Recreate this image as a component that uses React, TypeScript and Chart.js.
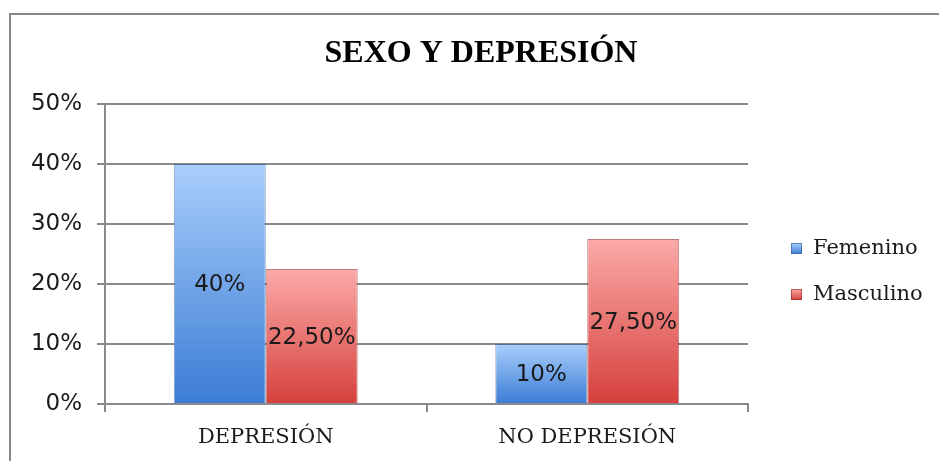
import React, { useEffect, useRef } from "react";
import { Chart, registerables } from "chart.js";

Chart.register(...registerables);

const categories = ["DEPRESIÓN", "NO DEPRESIÓN"];
const seriesNames = ["Femenino", "Masculino"];
const femenino = [40, 10];
const masculino = [22.5, 27.5];
const yTickValues = [0, 10, 20, 30, 40, 50];
const titleText = "SEXO Y DEPRESIÓN";

const palette = [
  { light: "#a9cffc", dark: "#3b7cd4", solid: "#5a93e0", edge: "rgba(50,90,150,0.6)" },
  { light: "#fbaaa8", dark: "#d6403c", solid: "#e0615d", edge: "rgba(140,40,40,0.6)" },
];

const fmt = (v: number) =>
  Number.isInteger(v) ? `${v}%` : `${v.toFixed(2).replace(".", ",")}%`;

const gradientFill = (idx: number) => (c: any) => {
  const chart = c.chart;
  const p = palette[idx];
  if (!chart.chartArea || c.type !== "data" || !chart.scales.y) return p.solid;
  const ys = chart.scales.y;
  const top = ys.getPixelForValue(c.raw);
  const base = ys.getPixelForValue(0);
  if (!isFinite(top) || !isFinite(base) || top === base) return p.solid;
  const g = chart.ctx.createLinearGradient(0, top, 0, base);
  g.addColorStop(0, p.light);
  g.addColorStop(1, p.dark);
  return g;
};

const framePlugin = {
  id: "frame",
  beforeDraw(chart: any) {
    const { ctx, width, height } = chart;
    ctx.save();
    ctx.strokeStyle = "#878787";
    ctx.lineWidth = 2;
    ctx.beginPath();
    ctx.moveTo(10, height);
    ctx.lineTo(10, 14);
    ctx.lineTo(width, 14);
    ctx.stroke();
    ctx.restore();
  },
};

const valueLabels = {
  id: "valueLabels",
  afterDatasetsDraw(chart: any) {
    const { ctx } = chart;
    ctx.save();
    ctx.font = '23px "DejaVu Sans"';
    ctx.fillStyle = "#1a1a1a";
    ctx.textAlign = "center";
    ctx.textBaseline = "middle";
    chart.data.datasets.forEach((ds: any, di: number) => {
      const meta = chart.getDatasetMeta(di);
      meta.data.forEach((el: any, i: number) => {
        const v = ds.data[i];
        ctx.fillText(fmt(v), el.x, (el.y + el.base) / 2 + 2);
      });
    });
    ctx.restore();
  },
};

const customLegend = {
  id: "customLegend",
  afterDraw(chart: any) {
    const { ctx, chartArea } = chart;
    const cy = (chartArea.top + chartArea.bottom) / 2;
    const boxX = chartArea.right + 43;
    ctx.save();
    ctx.font = '21px "DejaVu Serif"';
    ctx.textAlign = "left";
    ctx.textBaseline = "middle";
    seriesNames.forEach((name, i) => {
      const y = cy - 6 + i * 46;
      const p = palette[i];
      const g = ctx.createLinearGradient(0, y - 5, 0, y + 6);
      g.addColorStop(0, p.light);
      g.addColorStop(1, p.dark);
      ctx.fillStyle = g;
      ctx.fillRect(boxX, y - 5, 11, 11);
      ctx.strokeStyle = p.edge;
      ctx.lineWidth = 1;
      ctx.strokeRect(boxX + 0.5, y - 4.5, 10, 10);
      ctx.fillStyle = "#1a1a1a";
      ctx.fillText(name, boxX + 22, y + 1);
    });
    ctx.restore();
  },
};

export default function App() {
  const ref = useRef<HTMLCanvasElement | null>(null);
  useEffect(() => {
    if (!ref.current) return;
    const grid = "#8a8a8a";
    const chart = new Chart(ref.current, {
      type: "bar",
      data: {
        labels: categories,
        datasets: [
          {
            label: seriesNames[0],
            data: femenino,
            backgroundColor: gradientFill(0),
            borderColor: palette[0].edge,
            borderWidth: 1,
            barPercentage: 1,
            categoryPercentage: 0.572,
          },
          {
            label: seriesNames[1],
            data: masculino,
            backgroundColor: gradientFill(1),
            borderColor: palette[1].edge,
            borderWidth: 1,
            barPercentage: 1,
            categoryPercentage: 0.572,
          },
        ],
      },
      options: {
        animation: false,
        responsive: true,
        maintainAspectRatio: false,
        layout: { padding: { left: 23, right: 0, top: 0, bottom: 0 } },
        plugins: {
          legend: { display: false },
          tooltip: { enabled: false },
          title: {
            display: true,
            text: titleText,
            color: "#000",
            font: { family: '"Liberation Serif"', size: 32, weight: "bold" },
            padding: { top: 35, bottom: 30.6 },
          },
        },
        scales: {
          x: {
            grid: {
              display: true,
              drawOnChartArea: false,
              drawTicks: true,
              tickLength: 8,
              offset: true,
              color: grid,
              lineWidth: 2,
            },
            border: { display: true, color: grid, width: 2 },
            ticks: {
              color: "#1a1a1a",
              font: { family: '"DejaVu Serif"', size: 21 },
              padding: 13,
            },
            afterFit: (s: any) => {
              s.height = 57;
            },
          },
          y: {
            min: 0,
            max: 50,
            afterBuildTicks: (s: any) => {
              s.ticks = yTickValues.map((v) => ({ value: v }));
            },
            grid: { color: grid, lineWidth: 2, tickLength: 8 },
            border: { display: true, color: grid, width: 2 },
            ticks: {
              color: "#1a1a1a",
              font: { family: '"DejaVu Sans"', size: 23 },
              padding: 15,
              callback: (v: any) => `${v}%`,
            },
            afterFit: (s: any) => {
              s.width = 82;
            },
          },
          spacer: {
            type: "linear",
            position: "right",
            display: true,
            grid: { display: false },
            border: { display: false },
            ticks: { display: false },
            afterFit: (s: any) => {
              s.width = 191;
            },
          },
        },
      },
      plugins: [framePlugin, valueLabels, customLegend],
    } as any);
    return () => chart.destroy();
  }, []);
  return (
    <div style={{ position: "fixed", left: 0, top: 0, width: 939, height: 461, background: "#fff" }}>
      <canvas ref={ref} />
    </div>
  );
}
